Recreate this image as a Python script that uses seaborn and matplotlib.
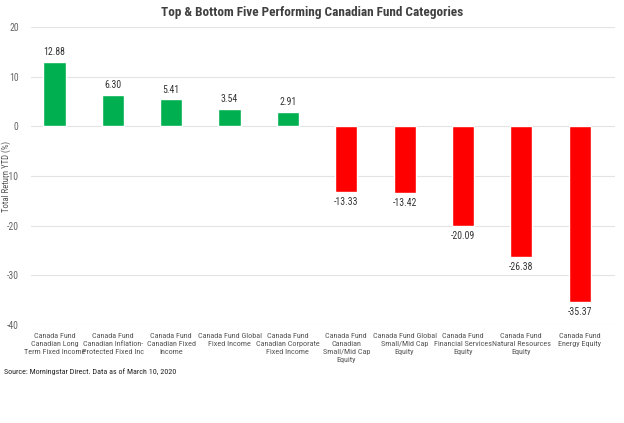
import matplotlib.pyplot as plt
import numpy as np
import pandas as pd
import seaborn as sb

sb.set_theme(style="white")
plt.rcParams['font.family'] = ['Roboto Condensed', 'Liberation Sans Narrow', 'Roboto', 'DejaVu Sans']

categories = [
    "Canada Fund\nCanadian Long\nTerm Fixed Income",
    "Canada Fund\nCanadian Inflation-\nProtected Fixed Inc",
    "Canada Fund\nCanadian Fixed\nIncome",
    "Canada Fund Global\nFixed Income",
    "Canada Fund\nCanadian Corporate\nFixed Income",
    "Canada Fund\nCanadian\nSmall/Mid Cap\nEquity",
    "Canada Fund Global\nSmall/Mid Cap\nEquity",
    "Canada Fund\nFinancial Services\nEquity",
    "Canada Fund\nNatural Resources\nEquity",
    "Canada Fund\nEnergy Equity",
]
returns = [12.88, 6.30, 5.41, 3.54, 2.91, -13.33, -13.42, -20.09, -26.38, -35.37]
yticks = [20, 10, 0, -10, -20, -30, -40]

df = pd.DataFrame({"cat": categories, "ret": returns})
colors = ["#00B050" if v > 0 else "#FF0000" for v in returns]

fig = plt.figure(figsize=(6.24, 4.23), dpi=100)
ax = fig.add_axes([0.05, 0.232, 0.935, 0.704])
sb.barplot(data=df, x="cat", y="ret", hue="cat", palette=colors, legend=False,
           width=0.38, ax=ax, saturation=1)

for i, v in enumerate(returns):
    off = 1.0 if v > 0 else -1.0
    ax.text(i, v + off, f"{v:.2f}", ha="center", va="bottom" if v > 0 else "top",
            fontsize=7, color="#333333")

ax.set_ylim(-40, 20)
ax.set_yticks(yticks)
ax.set_yticklabels([str(t) for t in yticks], fontsize=7, color="#666666")
ax.yaxis.grid(True, color="#e3e3e3", linewidth=0.8)
ax.set_axisbelow(True)
ax.set_xticks(range(len(categories)))
ax.set_xticklabels(categories, fontsize=5.9, color="#555555", linespacing=1.4)
ax.tick_params(axis="x", length=0, pad=6)
ax.tick_params(axis="y", length=0, pad=9)
for s in ax.spines.values():
    s.set_visible(False)
ax.set_xlabel("")
ax.set_ylabel("Total Return YTD (%)", fontsize=6.3, color="#555555", labelpad=-3)
ax.set_xlim(-0.4, 9.6)

fig.suptitle("Top & Bottom Five Performing Canadian Fund Categories", y=0.985,
             fontsize=9.5, fontweight="bold", color="#404040")
fig.text(0.006, 0.115, "Source: Morningstar Direct. Data as of March 10, 2020",
         fontsize=5.8, color="#222222")

fig.savefig("out.png", dpi=100)
